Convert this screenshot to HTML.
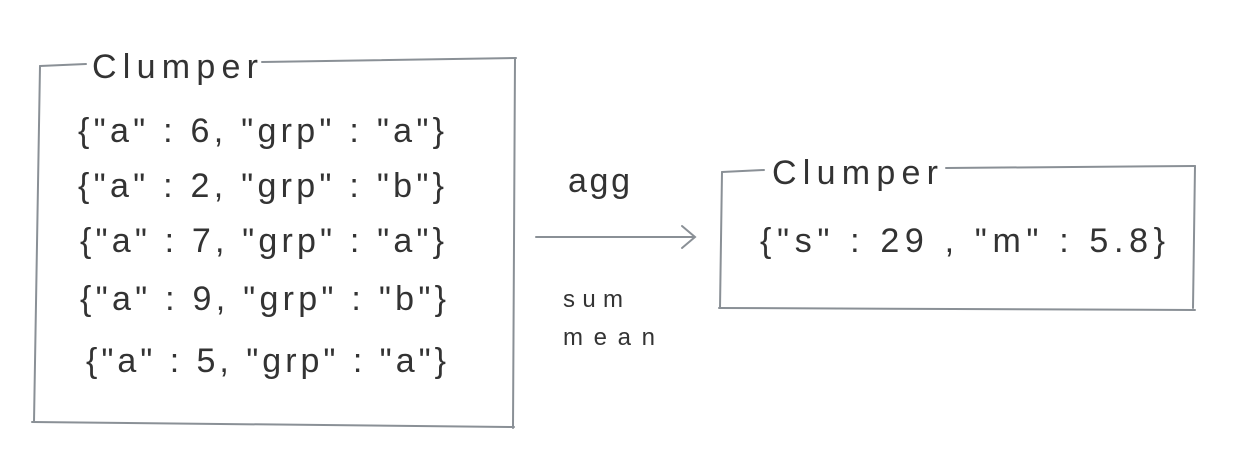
<!DOCTYPE html>
<html><head><meta charset="utf-8"><style>
html,body{margin:0;padding:0;background:#fff;width:1241px;height:450px;overflow:hidden}
text{font-family:"Liberation Sans",sans-serif;fill:#333}
</style></head><body>
<svg width="1241" height="450" viewBox="0 0 1241 450" xmlns="http://www.w3.org/2000/svg">
<g stroke="#8a9096" stroke-width="2" fill="none" stroke-linecap="round">
<path d="M40 66 L86 64"/>
<path d="M262 62 L516 58"/>
<path d="M40 66 L34 422"/>
<path d="M515 58 L513 428"/>
<path d="M32 422 L514 427"/>
<path d="M722 172 L764 170"/>
<path d="M946 168 L1195 166"/>
<path d="M722 172 L720 308"/>
<path d="M1195 166 L1193 308"/>
<path d="M719 308 L1195 310"/>
<path d="M536 237 L694 237"/>
<path d="M682 226 L695 237 L682 248"/>
</g>
<g font-size="34">
<text x="92" y="78" textLength="166" lengthAdjust="spacing">Clumper</text>
<text x="772" y="184" textLength="166" lengthAdjust="spacing">Clumper</text>
<text x="78" y="142" textLength="366" lengthAdjust="spacing">{"a" : 6, "grp" : "a"}</text>
<text x="78" y="197" textLength="366" lengthAdjust="spacing">{"a" : 2, "grp" : "b"}</text>
<text x="80" y="252" textLength="364" lengthAdjust="spacing">{"a" : 7, "grp" : "a"}</text>
<text x="80" y="310" textLength="366" lengthAdjust="spacing">{"a" : 9, "grp" : "b"}</text>
<text x="86" y="372" textLength="360" lengthAdjust="spacing">{"a" : 5, "grp" : "a"}</text>
<text x="760" y="252" textLength="405" lengthAdjust="spacing">{"s" : 29 , "m" : 5.8}</text>
<text x="568" y="192" textLength="62" lengthAdjust="spacing">agg</text>
</g>
<g font-size="24">
<text x="563" y="307" textLength="60" lengthAdjust="spacing">sum</text>
<text x="563" y="345" textLength="92" lengthAdjust="spacing">mean</text>
</g>
</svg>
</body></html>
